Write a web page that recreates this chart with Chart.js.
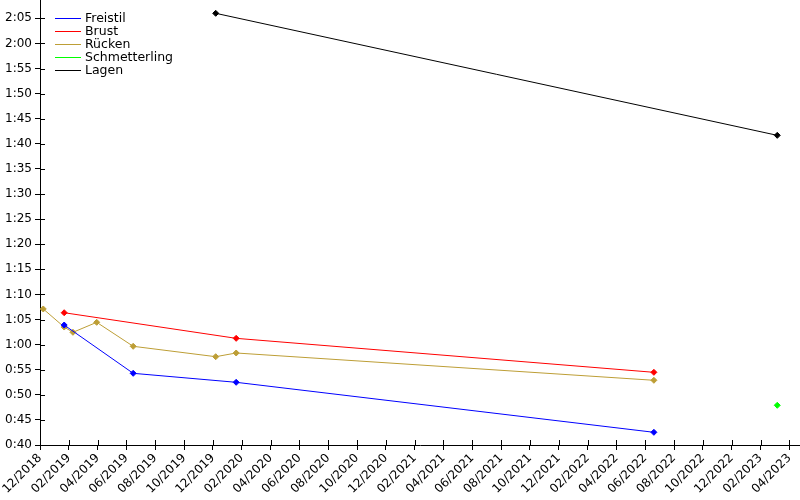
<!DOCTYPE html>
<html>
<head>
<meta charset="utf-8">
<script src="https://cdn.jsdelivr.net/npm/chart.js@4/dist/chart.umd.min.js"></script>
<style>
html,body{margin:0;padding:0;background:#fff;}
#c{display:block;}
</style>
</head>
<body>
<canvas id="c" width="800" height="500"></canvas>
<script>
// Series names and colours
const seriesNames = ["Freistil", "Brust", "Rücken", "Schmetterling", "Lagen"];
const seriesColors = ["#0000ff", "#ff0000", "#bd9e36", "#00ff00", "#000000"];

// Dates of each result and times in seconds
const freistilDates = ["2019-01-22", "2019-06-15", "2020-01-20", "2022-06-19"];
const freistilSeconds = [63.9, 54.28, 52.49, 42.53];

const brustDates = ["2019-01-22", "2020-01-20", "2022-06-19"];
const brustSeconds = [66.35, 61.25, 54.48];

const rueckenDates = ["2018-12-08", "2019-01-22", "2019-02-09", "2019-03-30", "2019-06-15", "2019-12-07", "2020-01-20", "2022-06-19"];
const rueckenSeconds = [67.1, 63.5, 62.45, 64.44, 59.66, 57.59, 58.33, 52.89];

const schmetterlingDates = ["2023-03-06"];
const schmetterlingSeconds = [47.91];

const lagenDates = ["2019-12-07", "2023-03-06"];
const lagenSeconds = [126.0, 101.69];

// Axis range
const xStartYear = 2018, xStartMonth = 12;   // month index 0 = 12/2018
const xMin = 0, xMax = 52.74, xStep = 2;
const yMin = 40, yMax = 128.65, yStep = 5;

function daysInMonth(y, m) { return new Date(y, m, 0).getDate(); }
function monthIndex(s) {
  const [y, m, d] = s.split("-").map(Number);
  return (y - xStartYear) * 12 + (m - xStartMonth) + (d - 1) / daysInMonth(y, m);
}
function pts(dates, secs) { return dates.map((d, i) => ({ x: monthIndex(d), y: secs[i] })); }
function fmtTime(v) {
  const m = Math.floor(v / 60), s = Math.round(v - m * 60);
  return m + ":" + String(s).padStart(2, "0");
}
function fmtMonth(v) {
  const t = Math.round(v) + (xStartMonth - 1);
  const mm = (t % 12) + 1, yy = xStartYear + Math.floor(t / 12);
  return String(mm).padStart(2, "0") + "/" + yy;
}

const allData = [
  pts(freistilDates, freistilSeconds),
  pts(brustDates, brustSeconds),
  pts(rueckenDates, rueckenSeconds),
  pts(schmetterlingDates, schmetterlingSeconds),
  pts(lagenDates, lagenSeconds)
];

const FONT = "DejaVu Sans";

const innerTicks = {
  id: "innerTicks",
  afterDraw(chart) {
    const ctx = chart.ctx, xs = chart.scales.x, ys = chart.scales.y;
    ctx.save();
    ctx.strokeStyle = "#000"; ctx.lineWidth = 1;
    ctx.beginPath();
    xs.ticks.forEach(t => {
      const px = Math.round(xs.getPixelForValue(t.value)) + 0.5;
      ctx.moveTo(px, xs.top - 5); ctx.lineTo(px, xs.top);
    });
    ys.ticks.forEach(t => {
      const py = Math.round(ys.getPixelForValue(t.value)) + 0.5;
      ctx.moveTo(ys.right, py); ctx.lineTo(ys.right + 5, py);
    });
    ctx.stroke();
    ctx.restore();
  }
};

const insideLegend = {
  id: "insideLegend",
  afterDraw(chart) {
    const ctx = chart.ctx;
    ctx.save();
    ctx.font = "12.5px '" + FONT + "'";
    ctx.textBaseline = "middle";
    chart.data.datasets.forEach((ds, i) => {
      const y = 18.5 + i * 13;
      ctx.strokeStyle = ds.borderColor; ctx.lineWidth = 1;
      ctx.beginPath(); ctx.moveTo(55, y); ctx.lineTo(81, y); ctx.stroke();
      ctx.fillStyle = "#000";
      ctx.fillText(ds.label, 85, y + 0.5);
    });
    ctx.restore();
  }
};

new Chart(document.getElementById("c"), {
  type: "line",
  data: {
    datasets: allData.map((d, i) => ({
      label: seriesNames[i],
      data: d,
      borderColor: seriesColors[i],
      backgroundColor: seriesColors[i],
      borderWidth: 1,
      pointStyle: "rectRot",
      pointRadius: 3,
      pointBorderWidth: 1,
      tension: 0,
      fill: false,
      clip: false
    }))
  },
  options: {
    responsive: false,
    animation: false,
    parsing: false,
    layout: { padding: 0, autoPadding: false },
    plugins: { legend: { display: false }, tooltip: { enabled: false } },
    scales: {
      x: {
        type: "linear",
        min: xMin, max: xMax,
        afterFit: s => { s.height = 55; s.paddingLeft = 0; s.paddingRight = 0; },
        border: { display: true, color: "#000", width: 1 },
        grid: { drawOnChartArea: false, drawTicks: true, tickLength: 5, color: "#000" },
        ticks: {
          stepSize: xStep, includeBounds: false, autoSkip: false,
          maxRotation: 45, minRotation: 45, padding: 1,
          color: "#000", font: { family: FONT, size: 12 },
          callback: v => fmtMonth(v)
        }
      },
      y: {
        type: "linear",
        min: yMin, max: yMax,
        afterFit: s => { s.width = 40; s.paddingTop = 0; s.paddingBottom = 0; },
        border: { display: true, color: "#000", width: 1 },
        grid: { drawOnChartArea: false, drawTicks: true, tickLength: 5, color: "#000" },
        ticks: {
          stepSize: yStep, includeBounds: false,
          padding: 3, color: "#000", font: { family: FONT, size: 12 },
          callback: v => fmtTime(v)
        }
      }
    }
  },
  plugins: [innerTicks, insideLegend]
});
</script>
</body>
</html>
